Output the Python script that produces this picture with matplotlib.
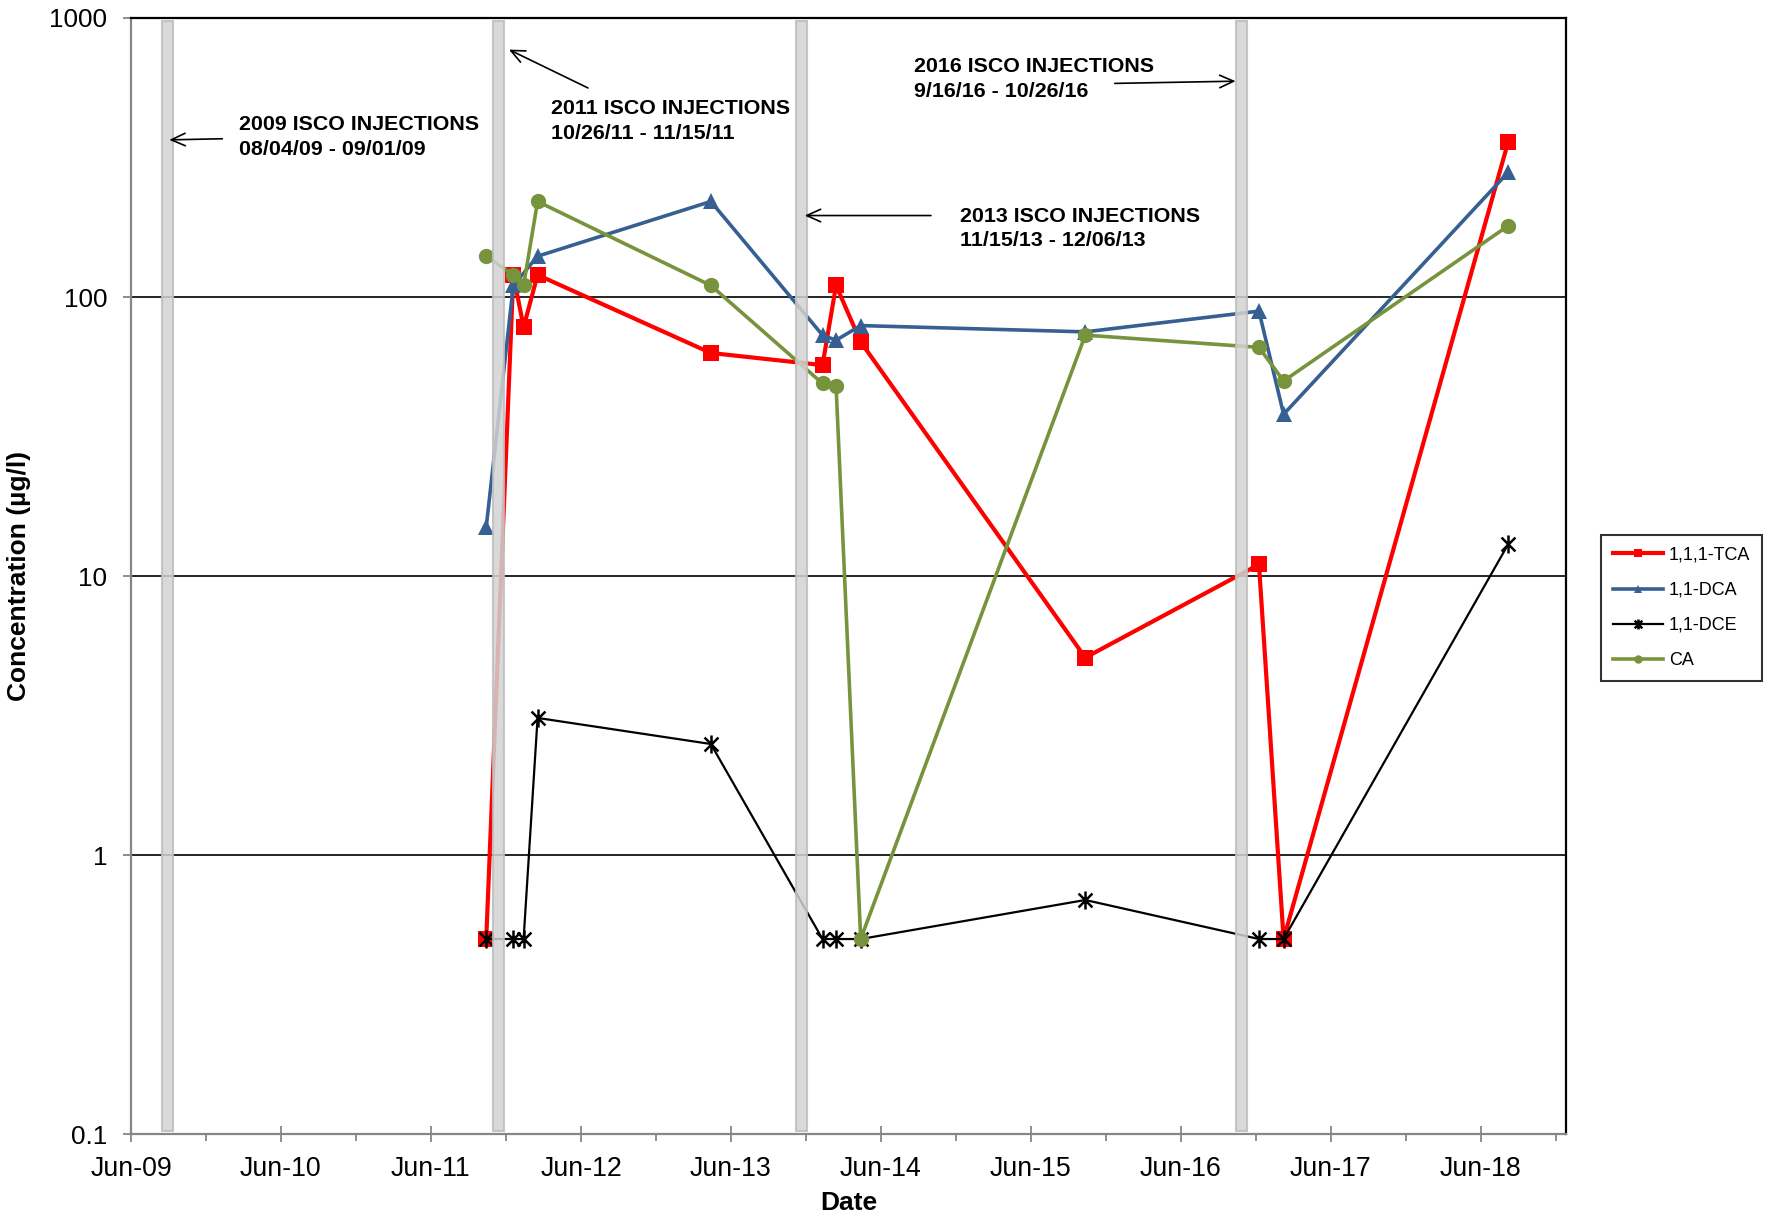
import numpy as np
import pandas as pd
import matplotlib
matplotlib.use('Agg')
import matplotlib.pyplot as plt
import matplotlib.dates as mdates
from matplotlib.path import Path
from matplotlib.ticker import FixedLocator, FuncFormatter

plt.rcParams['font.family'] = ['Liberation Sans', 'DejaVu Sans']

# sample dates and concentrations (ug/l)
sample_dates = ['2011-10-14', '2011-12-19', '2012-01-13', '2012-02-16', '2013-04-13',
                '2014-01-10', '2014-02-12', '2014-04-13', '2015-10-12', '2016-12-08',
                '2017-02-06', '2018-08-07']
tca = [0.5, 120, 78, 120, 63, 57, 110, 69, 5.1, 11, 0.5, 360]
dca = [15, 110, np.nan, 140, 220, 73, 70, 79, 75, 89, 38, 280]
dce = [0.5, 0.5, 0.5, 3.1, 2.5, 0.5, 0.5, 0.5, 0.69, 0.5, 0.5, 13]
ca = [140, 120, 110, 220, 110, 49, 48, 0.5, 73, 66, 50, 180]

# injection bars as drawn (start, end)
bar_spans = [('2009-08-15', '2009-09-10'), ('2011-10-31', '2011-11-26'),
             ('2013-11-07', '2013-12-03'), ('2016-10-14', '2016-11-09')]
inj_labels = ['2009 ISCO INJECTIONS\n08/04/09 - 09/01/09',
              '2011 ISCO INJECTIONS\n10/26/11 - 11/15/11',
              '2013 ISCO INJECTIONS\n11/15/13 - 12/06/13',
              '2016 ISCO INJECTIONS\n9/16/16 - 10/26/16']

x = pd.to_datetime(sample_dates)

fig = plt.figure(figsize=(17.69, 12.16), dpi=100)
ax = fig.add_axes([0.0741, 0.0674, 0.8112, 0.9178])

# asterisk marker: X with a vertical stroke
ast = Path([(-1, -1), (1, 1), (-1, 1), (1, -1), (0, -1.3), (0, 1.3)],
           [Path.MOVETO, Path.LINETO, Path.MOVETO, Path.LINETO, Path.MOVETO, Path.LINETO])

series = [
    ('1,1,1-TCA', tca, '#ff0000', 's', 11, 3.0),
    ('1,1-DCA', dca, '#376092', '^', 11, 2.6),
    ('1,1-DCE', dce, '#000000', ast, 13, 1.6),
    ('CA', ca, '#77933c', 'o', 11, 2.6),
]
for name, vals, col, mk, ms, lw in series:
    v = np.array(vals, dtype=float)
    ok = ~np.isnan(v)
    if mk is ast:
        ax.plot(x[ok], v[ok], color=col, lw=lw, marker=mk, ms=ms, mew=1.8,
                mfc='none', mec=col, label=name, zorder=3)
    else:
        ax.plot(x[ok], v[ok], color=col, lw=lw, marker=mk, ms=ms, mew=0,
                label=name, zorder=3)

for s, e in bar_spans:
    ax.axvspan(pd.Timestamp(s), pd.Timestamp(e), ymin=0.003, ymax=0.997,
               facecolor='#d3d3d3', edgecolor='#bdbdbd', lw=1.5, alpha=0.85, zorder=5)

ax.set_yscale('log')
ax.set_ylim(0.1, 1000)
ax.set_xlim(pd.Timestamp('2009-06-01'), pd.Timestamp('2018-12-26'))
ax.yaxis.set_major_locator(FixedLocator([0.1, 1, 10, 100, 1000]))
ax.yaxis.set_minor_locator(FixedLocator([]))
ax.yaxis.set_major_formatter(FuncFormatter(lambda v, p: '%g' % v))
for yv in [1, 10, 100]:
    ax.axhline(yv, color='black', lw=1.2, zorder=1)

ax.xaxis.set_major_locator(mdates.MonthLocator(bymonth=6))
ax.xaxis.set_minor_locator(mdates.MonthLocator(bymonth=12))
ax.xaxis.set_major_formatter(mdates.DateFormatter('%b-%y'))

ax.tick_params(axis='x', which='major', direction='inout', length=11, width=1.3,
               color='#868686', labelsize=19.3, pad=10)
ax.tick_params(axis='x', which='minor', direction='out', length=5, width=1.3, color='#868686')
ax.tick_params(axis='y', which='major', direction='out', length=6, width=1.3,
               color='#868686', labelsize=18.8, pad=11)

for sp in ['left', 'bottom']:
    ax.spines[sp].set_color('#868686')
    ax.spines[sp].set_linewidth(1.6)
for sp in ['top', 'right']:
    ax.spines[sp].set_color('black')
    ax.spines[sp].set_linewidth(1.6)

ax.set_xlabel('Date', fontsize=19, fontweight='bold', labelpad=7)
ax.set_ylabel('Concentration (µg/l)', fontsize=19, fontweight='bold', labelpad=13)

# annotations (axes fraction)
text_pos = [(0.0754, 0.913), (0.2924, 0.927), (0.5778, 0.831), (0.5456, 0.965)]
arrows = [((0.0636, 0.8918), (0.0266, 0.8908)),
          ((0.3184, 0.9373), (0.2633, 0.9717)),
          ((0.5574, 0.8230), (0.4694, 0.8230)),
          ((0.6855, 0.9414), (0.7697, 0.9434))]
for lbl, (tx, ty), (tail, head) in zip(inj_labels, text_pos, arrows):
    ax.text(tx, ty, lbl, transform=ax.transAxes, fontsize=15.4, fontweight='bold',
            va='top', ha='left', linespacing=1.38, zorder=6)
    ax.annotate('', xy=head, xytext=tail, xycoords='axes fraction',
                textcoords='axes fraction', zorder=6,
                arrowprops=dict(arrowstyle='->,head_length=1.0,head_width=0.45',
                                lw=1.2, color='black', shrinkA=0, shrinkB=0))

leg = fig.legend(loc='upper left', bbox_to_anchor=(0.905, 0.56), fontsize=13,
                 frameon=True, fancybox=False, edgecolor='black', markerscale=0.55,
                 handlelength=2.8, handletextpad=0.3, labelspacing=1.0,
                 borderpad=0.65, borderaxespad=0)
leg.get_frame().set_linewidth(1.5)

fig.savefig('out.png', dpi=100)
